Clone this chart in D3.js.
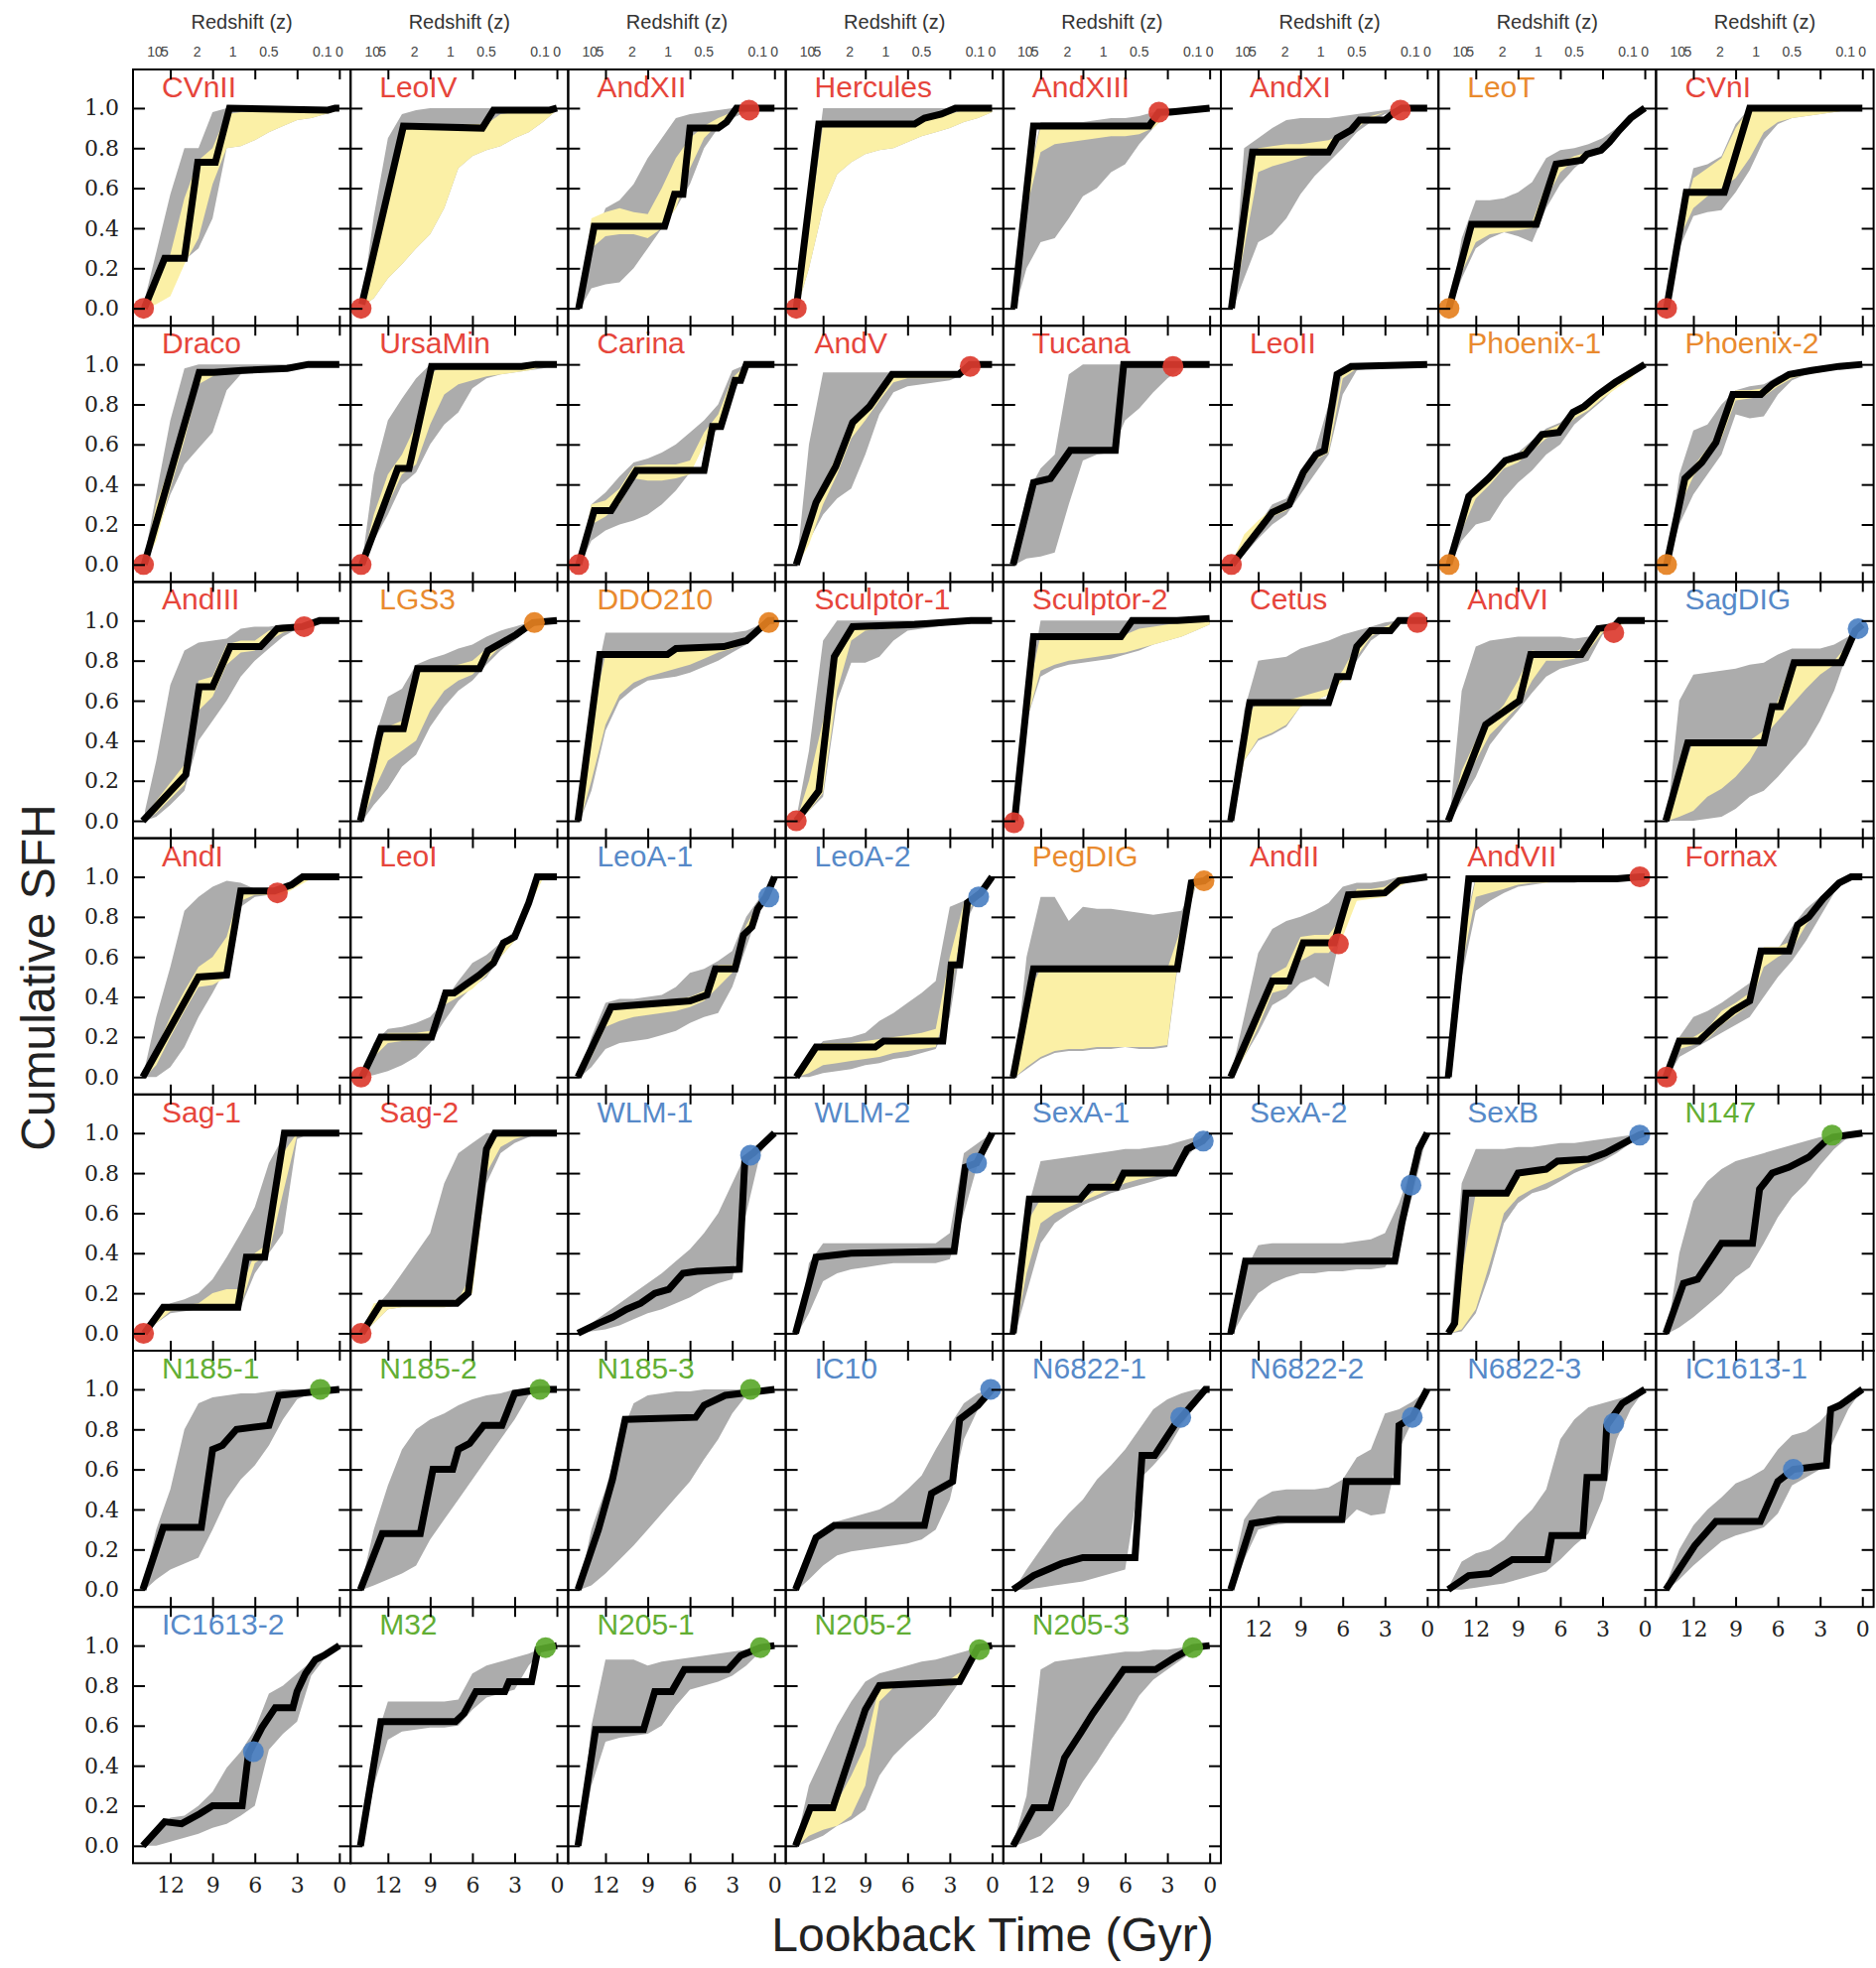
<!DOCTYPE html>
<html>
<head>
<meta charset="utf-8">
<script src="https://d3js.org/d3.v7.min.js"></script>
<style>
  body { margin: 0; background: #fff; }
</style>
</head>
<body>
<script>
// lookback-time grid (Gyr) the uncertainty bands are read on
const TIME_GRID = [13.8, 13, 12, 11, 10, 9, 8, 7, 6, 5, 4, 3, 2, 1, 0];

const galaxies = [
  "CVnII", "LeoIV", "AndXII", "Hercules", "AndXIII", "AndXI", "LeoT", "CVnI",
  "Draco", "UrsaMin", "Carina", "AndV", "Tucana", "LeoII", "Phoenix-1", "Phoenix-2",
  "AndIII", "LGS3", "DDO210", "Sculptor-1", "Sculptor-2", "Cetus", "AndVI", "SagDIG",
  "AndI", "LeoI", "LeoA-1", "LeoA-2", "PegDIG", "AndII", "AndVII", "Fornax",
  "Sag-1", "Sag-2", "WLM-1", "WLM-2", "SexA-1", "SexA-2", "SexB", "N147",
  "N185-1", "N185-2", "N185-3", "IC10", "N6822-1", "N6822-2", "N6822-3", "IC1613-1",
  "IC1613-2", "M32", "N205-1", "N205-2", "N205-3"
];

// r = red, o = orange, b = blue, g = green
const groups = [
  "r", "r", "r", "r", "r", "r", "o", "r",
  "r", "r", "r", "r", "r", "r", "o", "o",
  "r", "o", "o", "r", "r", "r", "r", "b",
  "r", "r", "b", "b", "o", "r", "r", "r",
  "r", "r", "b", "b", "b", "b", "b", "g",
  "g", "g", "g", "b", "b", "b", "b", "b",
  "b", "g", "g", "g", "g"
];

// best fit cumulative SFH, [lookback Gyr, fraction]
const bestFit = [
  [[13.85,0],[12.4,0.25],[11.0,0.25],[10.05,0.73],[8.8,0.73],[7.8,1.0],[0.8,0.99],[0.3,1.0],[0,1.0]],
  [[13.85,0.02],[10.9,0.91],[5.3,0.9],[4.5,0.99],[0.5,0.99],[0,1.0]],
  [[13.9,0],[12.8,0.41],[7.8,0.41],[7.1,0.57],[6.5,0.57],[6.0,0.9],[4.0,0.9],[3.4,0.93],[2.7,1.0],[0,1.0]],
  [[13.9,0],[12.3,0.92],[5.5,0.92],[4.8,0.95],[3.6,0.97],[2.6,1.0],[0,1.0]],
  [[13.9,0],[12.5,0.91],[4.3,0.91],[3.6,0.98],[2.8,0.98],[0,1.0]],
  [[13.9,0],[12.4,0.78],[7.0,0.78],[6.4,0.85],[5.4,0.89],[4.8,0.94],[3.0,0.94],[2.5,0.97],[1.8,1.0],[0,1.0]],
  [[13.9,0],[12.3,0.42],[7.7,0.42],[6.3,0.72],[4.5,0.74],[4.1,0.77],[3.1,0.79],[2.5,0.83],[1.8,0.89],[1.0,0.95],[0,1.0]],
  [[13.9,0],[12.5,0.58],[9.8,0.58],[8.0,1.0],[0,1.0]],
  [[13.85,0],[9.95,0.96],[8.9,0.96],[6.9,0.97],[3.7,0.98],[2.2,1.0],[0,1.0]],
  [[13.85,0],[11.3,0.48],[10.5,0.48],[8.9,0.99],[2.5,0.99],[1.5,1.0],[0,1.0]],
  [[13.9,0],[12.8,0.27],[11.6,0.27],[9.8,0.47],[5.0,0.47],[4.4,0.69],[3.8,0.69],[2.8,0.92],[2.4,0.92],[2.0,1.0],[0,1.0]],
  [[13.9,0],[12.5,0.31],[11.1,0.49],[9.9,0.71],[8.7,0.79],[7.1,0.95],[2.35,0.95],[1.55,1.0],[0,1.0]],
  [[13.95,0],[12.5,0.41],[11.3,0.43],[9.9,0.57],[6.7,0.57],[6.1,1.0],[0,1.0]],
  [[13.85,0],[11.0,0.26],[9.8,0.3],[8.8,0.46],[7.9,0.55],[7.3,0.57],[6.4,0.95],[5.4,0.99],[0,1.0]],
  [[13.9,0],[12.5,0.34],[11.1,0.43],[9.9,0.52],[8.5,0.55],[7.3,0.65],[6.1,0.66],[5.1,0.76],[4.3,0.79],[3.3,0.85],[2.1,0.91],[0,1.0]],
  [[13.9,0],[12.6,0.43],[11.4,0.51],[10.4,0.61],[9.2,0.85],[7.2,0.85],[6.4,0.9],[5.2,0.95],[3.6,0.97],[1.65,0.99],[0,1.0]],
  [[13.95,0],[10.9,0.23],[9.95,0.67],[9.0,0.67],[7.75,0.87],[5.6,0.87],[4.4,0.96],[2.6,0.97],[1.4,1.0],[0,1.0]],
  [[13.95,0],[12.5,0.46],[10.9,0.46],[9.9,0.76],[5.5,0.76],[4.9,0.85],[3.9,0.89],[2.9,0.93],[1.7,0.99],[0,1.0]],
  [[13.95,0],[12.4,0.83],[7.6,0.83],[7.0,0.86],[3.6,0.87],[2.0,0.9],[1.2,0.95],[0.4,1.0],[0,1.0]],
  [[13.9,0],[12.3,0.15],[11.2,0.82],[9.9,0.97],[5.5,0.98],[1.5,1.0],[0,1.0]],
  [[13.85,0],[12.5,0.92],[6.3,0.92],[5.5,1.0],[2.3,1.0],[0,1.01]],
  [[13.95,0],[12.6,0.59],[7.0,0.59],[6.4,0.72],[5.6,0.72],[5.0,0.87],[4.0,0.95],[2.6,0.95],[2.0,1.0],[0,1.0]],
  [[13.95,0],[11.3,0.48],[10.1,0.54],[8.9,0.6],[8.1,0.83],[4.5,0.83],[3.3,0.96],[2.2,0.97],[1.8,1.0],[0,1.0]],
  [[13.95,0],[12.4,0.39],[7.0,0.39],[6.4,0.57],[5.8,0.57],[4.85,0.79],[1.5,0.79],[0.5,0.95],[0,0.98]],
  [[13.95,0],[10.0,0.5],[8.0,0.51],[7.0,0.93],[4.6,0.93],[3.4,0.96],[2.6,1.0],[0,1.0]],
  [[13.85,0],[12.5,0.2],[8.9,0.2],[7.9,0.42],[7.3,0.42],[6.5,0.46],[5.5,0.51],[4.5,0.57],[3.8,0.67],[3.0,0.7],[2.0,0.87],[1.4,1.0],[0,1.0]],
  [[13.95,0],[11.6,0.35],[6.0,0.38],[4.8,0.41],[4.2,0.54],[2.8,0.54],[2.2,0.71],[1.6,0.75],[1.2,0.84],[0.6,0.9],[0,1.0]],
  [[13.9,0],[12.5,0.15],[8.3,0.15],[7.7,0.18],[3.5,0.18],[2.9,0.56],[2.3,0.56],[1.75,0.87],[0.8,0.92],[0,1.0]],
  [[13.95,0],[12.5,0.54],[2.3,0.54],[1.7,0.8],[1.3,0.97],[0.4,0.98],[0,1.0]],
  [[13.95,0],[11.0,0.48],[9.8,0.48],[8.8,0.67],[6.6,0.67],[5.6,0.91],[3.0,0.92],[2.0,0.98],[0,1.0]],
  [[13.95,0],[12.5,0.99],[2.0,0.99],[0.35,1.0],[0,1.0]],
  [[13.95,0],[13.0,0.18],[11.6,0.18],[10.4,0.26],[9.2,0.33],[8.0,0.38],[7.2,0.63],[5.2,0.63],[4.6,0.76],[3.8,0.8],[2.8,0.89],[1.65,0.97],[0.8,1.0],[0,1.0]],
  [[13.85,0],[12.5,0.13],[7.2,0.13],[6.6,0.38],[5.3,0.38],[3.9,1.0],[0,1.0]],
  [[13.85,0],[12.5,0.15],[7.1,0.15],[6.3,0.2],[5.0,0.92],[4.4,1.0],[0,1.0]],
  [[13.95,0],[12.5,0.05],[11.5,0.08],[10.5,0.12],[9.5,0.15],[8.5,0.2],[7.5,0.22],[6.5,0.3],[5.5,0.31],[2.5,0.32],[2.1,0.87],[1.5,0.9],[0,1.0]],
  [[13.95,0],[12.5,0.38],[10.0,0.4],[2.7,0.41],[1.9,0.83],[1.1,0.85],[0,1.0]],
  [[13.95,0],[12.8,0.67],[9.2,0.67],[8.5,0.73],[6.6,0.73],[6.1,0.8],[2.5,0.8],[1.6,0.92],[0.5,0.96],[0,1.0]],
  [[13.95,0],[12.9,0.36],[2.3,0.36],[1.8,0.55],[1.2,0.74],[0.6,0.92],[0,1.0]],
  [[13.95,0],[13.5,0.05],[12.7,0.7],[9.8,0.7],[9.0,0.8],[7.0,0.82],[6.2,0.86],[4.0,0.87],[2.8,0.9],[0.4,0.99],[0,1.0]],
  [[13.95,0],[12.7,0.25],[11.7,0.27],[10.0,0.45],[7.8,0.45],[7.3,0.72],[6.4,0.8],[5.2,0.83],[3.8,0.88],[2.6,0.96],[2.1,0.98],[0,1.0]],
  [[13.95,0],[12.5,0.31],[9.8,0.31],[9.0,0.7],[8.3,0.72],[7.3,0.8],[5.0,0.82],[4.3,0.97],[0,1.0]],
  [[13.95,0],[12.4,0.28],[9.7,0.28],[8.8,0.6],[7.4,0.6],[7.0,0.7],[6.2,0.73],[5.2,0.82],[3.9,0.82],[3.0,0.98],[1.25,1.0],[0,1.0]],
  [[13.95,0],[12.5,0.3],[11.5,0.55],[10.6,0.85],[5.6,0.86],[5.0,0.92],[3.5,0.97],[0,1.0]],
  [[13.95,0],[12.5,0.26],[11.2,0.32],[4.8,0.32],[4.3,0.48],[2.8,0.54],[2.3,0.85],[1.0,0.92],[0,1.0]],
  [[13.95,0],[12.5,0.07],[10.5,0.13],[9.0,0.16],[5.3,0.16],[4.8,0.67],[3.9,0.67],[2.5,0.82],[2.0,0.86],[0.3,1.0],[0,1.0]],
  [[13.95,0],[12.46,0.33],[10.6,0.35],[6.06,0.35],[5.75,0.54],[2.15,0.54],[2.0,0.82],[1.05,0.86],[0,1.0]],
  [[13.95,0],[12.5,0.07],[11.0,0.08],[9.4,0.15],[6.9,0.15],[6.6,0.27],[4.4,0.27],[4.1,0.56],[2.9,0.56],[2.7,0.82],[1.6,0.93],[0,1.0]],
  [[13.95,0],[11.9,0.22],[10.4,0.34],[7.25,0.34],[6.0,0.54],[4.9,0.6],[2.55,0.62],[2.25,0.9],[1.6,0.92],[0,1.0]],
  [[13.95,0],[12.4,0.12],[11.2,0.11],[9.9,0.16],[9.0,0.2],[6.9,0.2],[6.45,0.46],[5.5,0.59],[4.55,0.69],[3.3,0.69],[3.0,0.77],[2.4,0.86],[1.7,0.93],[1.1,0.95],[0,1.0]],
  [[13.95,0],[12.5,0.62],[7.2,0.62],[6.6,0.66],[5.75,0.77],[3.7,0.77],[3.4,0.82],[1.8,0.82],[1.35,0.98],[0,1.0]],
  [[13.95,0],[12.7,0.58],[9.3,0.58],[8.5,0.77],[7.3,0.77],[6.4,0.88],[3.3,0.88],[2.4,0.95],[1.0,0.99],[0,1.0]],
  [[13.95,0],[12.9,0.19],[11.3,0.19],[9.0,0.68],[8.0,0.8],[2.3,0.82],[1.0,0.99],[0,1.0]],
  [[13.95,0],[12.5,0.19],[11.3,0.19],[10.3,0.44],[9.1,0.57],[8.3,0.66],[7.4,0.75],[6.1,0.88],[3.85,0.88],[2.5,0.94],[1.2,0.99],[0,1.0]]
];

// total uncertainty (grey), on TIME_GRID
const grayLo = [
  [0,0.1,0.2,0.24,0.3,0.45,0.8,0.81,0.84,0.88,0.91,0.94,0.95,0.97,0.99],
  [0.01,0.05,0.15,0.22,0.3,0.37,0.5,0.7,0.76,0.79,0.81,0.85,0.88,0.93,0.99],
  [0,0.1,0.12,0.13,0.2,0.3,0.4,0.5,0.62,0.8,0.9,0.95,0.98,1,1],
  [0.01,0.2,0.5,0.67,0.73,0.77,0.79,0.8,0.83,0.86,0.88,0.9,0.93,0.95,0.98],
  [0,0.2,0.33,0.35,0.45,0.56,0.6,0.68,0.72,0.82,0.9,0.97,0.99,1,1],
  [0,0.15,0.33,0.37,0.45,0.57,0.66,0.73,0.8,0.88,0.93,0.97,0.99,1,1],
  [0,0.15,0.3,0.35,0.38,0.36,0.33,0.5,0.62,0.7,0.76,0.79,0.86,0.94,1],
  [0,0.3,0.46,0.48,0.49,0.58,0.69,0.84,0.92,0.95,0.96,0.97,0.98,0.99,1],
  [0,0.15,0.35,0.5,0.58,0.66,0.87,0.95,0.96,0.97,0.97,0.98,0.99,1,1],
  [0,0.12,0.25,0.4,0.46,0.6,0.7,0.76,0.88,0.93,0.95,0.96,0.97,0.98,1],
  [0,0.12,0.17,0.2,0.22,0.25,0.3,0.37,0.46,0.6,0.68,0.85,0.98,1,1],
  [0,0.12,0.25,0.33,0.38,0.55,0.75,0.86,0.89,0.9,0.91,0.92,0.95,1,1],
  [0,0.03,0.04,0.06,0.3,0.52,0.55,0.56,0.72,0.78,0.86,0.93,0.98,1,1],
  [0,0.05,0.13,0.2,0.25,0.35,0.45,0.55,0.85,0.97,0.98,0.99,0.99,1,1],
  [0,0.12,0.2,0.22,0.33,0.41,0.47,0.55,0.6,0.7,0.76,0.82,0.89,0.95,1],
  [0,0.2,0.35,0.45,0.55,0.75,0.73,0.74,0.85,0.92,0.95,0.97,0.98,0.99,1],
  [0,0.02,0.08,0.15,0.4,0.5,0.6,0.72,0.8,0.86,0.92,0.96,0.98,1,1],
  [0,0.08,0.16,0.27,0.33,0.47,0.57,0.65,0.7,0.78,0.85,0.9,0.96,0.99,1],
  [0,0.15,0.45,0.6,0.66,0.7,0.71,0.72,0.74,0.77,0.8,0.84,0.88,0.95,1],
  [0,0.05,0.12,0.6,0.79,0.79,0.82,0.9,0.95,0.96,0.97,0.98,0.99,1,1],
  [0,0.5,0.72,0.76,0.78,0.79,0.8,0.81,0.83,0.85,0.88,0.9,0.92,0.95,0.98],
  [0,0.3,0.4,0.43,0.47,0.57,0.6,0.63,0.7,0.8,0.9,0.95,0.98,1,1],
  [0,0.1,0.22,0.38,0.47,0.55,0.64,0.72,0.76,0.78,0.8,0.93,0.97,1,1],
  [0,0,0,0.01,0.02,0.06,0.12,0.15,0.22,0.3,0.38,0.5,0.65,0.85,1],
  [0,0,0.05,0.15,0.3,0.42,0.55,0.85,0.9,0.91,0.93,0.96,0.99,1,1],
  [0,0.01,0.03,0.06,0.1,0.17,0.28,0.38,0.45,0.5,0.6,0.68,0.85,1,1],
  [0,0.05,0.14,0.17,0.18,0.19,0.21,0.23,0.27,0.3,0.32,0.45,0.65,0.85,1],
  [0,0,0.02,0.03,0.04,0.06,0.07,0.09,0.1,0.12,0.14,0.3,0.75,0.9,1],
  [0,0.04,0.09,0.12,0.13,0.13,0.14,0.14,0.15,0.14,0.14,0.15,0.7,0.95,1],
  [0,0.1,0.22,0.36,0.4,0.47,0.5,0.45,0.75,0.9,0.91,0.93,0.97,1,1],
  [0,0.5,0.83,0.88,0.92,0.95,0.96,0.97,0.97,0.97,0.98,0.98,0.98,0.99,1],
  [0,0.1,0.14,0.18,0.22,0.26,0.3,0.4,0.5,0.58,0.68,0.8,0.92,0.99,1],
  [0,0.05,0.1,0.11,0.12,0.12,0.12,0.13,0.3,0.4,0.5,0.97,1,1,1],
  [0,0.05,0.12,0.13,0.13,0.13,0.13,0.14,0.3,0.75,0.9,0.95,0.98,1,1],
  [0,0.01,0.02,0.04,0.07,0.1,0.12,0.15,0.18,0.22,0.25,0.27,0.6,0.9,1],
  [0,0.1,0.26,0.3,0.32,0.33,0.34,0.35,0.35,0.35,0.35,0.37,0.6,0.85,1],
  [0,0.2,0.45,0.55,0.6,0.64,0.67,0.7,0.72,0.74,0.76,0.78,0.85,0.93,1],
  [0,0.1,0.2,0.25,0.28,0.3,0.3,0.31,0.31,0.32,0.32,0.33,0.45,0.7,1],
  [0,0.01,0.1,0.3,0.55,0.65,0.7,0.72,0.76,0.8,0.83,0.86,0.9,0.95,1],
  [0,0.03,0.08,0.14,0.2,0.28,0.33,0.45,0.58,0.68,0.75,0.84,0.92,0.98,1],
  [0,0.05,0.1,0.13,0.16,0.3,0.45,0.55,0.62,0.72,0.85,0.95,0.98,1,1],
  [0,0.02,0.05,0.08,0.12,0.25,0.35,0.45,0.55,0.65,0.75,0.85,0.97,1,1],
  [0,0.02,0.08,0.15,0.22,0.3,0.38,0.46,0.54,0.65,0.75,0.88,0.97,1,1],
  [0,0.05,0.12,0.17,0.19,0.2,0.21,0.22,0.23,0.25,0.3,0.45,0.75,0.9,1],
  [0,0,0.01,0.02,0.03,0.04,0.06,0.08,0.1,0.55,0.62,0.7,0.82,0.92,1],
  [0,0.15,0.3,0.32,0.33,0.33,0.33,0.33,0.33,0.4,0.37,0.38,0.7,0.85,1],
  [0,0,0.01,0.02,0.03,0.05,0.07,0.09,0.15,0.22,0.28,0.45,0.75,0.9,1],
  [0,0.05,0.12,0.18,0.24,0.27,0.29,0.31,0.38,0.52,0.56,0.6,0.75,0.9,1],
  [0,0,0.02,0.04,0.06,0.09,0.11,0.15,0.2,0.48,0.56,0.62,0.85,0.94,1],
  [0,0.3,0.53,0.57,0.58,0.59,0.59,0.6,0.68,0.74,0.76,0.78,0.9,0.98,1],
  [0,0.3,0.52,0.54,0.55,0.56,0.6,0.7,0.78,0.8,0.82,0.85,0.9,0.97,1],
  [0,0.02,0.05,0.1,0.13,0.18,0.35,0.45,0.52,0.58,0.65,0.75,0.85,0.97,1],
  [0,0.02,0.05,0.12,0.2,0.32,0.42,0.53,0.63,0.75,0.83,0.88,0.93,0.98,1]
];

const grayHi = [
  [0.05,0.28,0.57,0.8,0.8,0.98,1,1,1,1,1,1,1,1,1],
  [0.05,0.46,0.85,0.97,0.99,1,1,1,1,1,1,1,1,1,1],
  [0.05,0.3,0.5,0.54,0.62,0.75,0.85,0.95,0.97,0.98,0.99,1,1,1,1],
  [0.03,0.45,1,1,1,1,1,1,1,1,1,1,1,1,1],
  [0.02,0.6,0.93,0.93,0.93,0.93,0.94,0.95,0.95,0.96,0.98,1,1,1,1],
  [0.05,0.8,0.85,0.9,0.94,0.95,0.95,0.95,0.96,0.97,0.98,0.99,1,1,1],
  [0.02,0.35,0.54,0.54,0.55,0.58,0.63,0.75,0.79,0.8,0.82,0.85,0.9,0.96,1],
  [0.02,0.4,0.7,0.72,0.76,0.92,1,1,1,1,1,1,1,1,1],
  [0.05,0.35,0.72,0.98,1,1,1,1,1,1,1,1,1,1,1],
  [0.03,0.45,0.72,0.83,0.93,1,1,1,1,1,1,1,1,1,1],
  [0.02,0.3,0.36,0.44,0.51,0.53,0.56,0.6,0.66,0.72,0.8,0.97,1,1,1],
  [0.05,0.6,0.96,0.96,0.96,0.96,0.96,0.96,0.96,0.96,0.96,0.96,0.97,1,1],
  [0.05,0.35,0.48,0.55,0.95,1,1,1,1,1,1,1,1,1,1],
  [0.02,0.12,0.2,0.3,0.33,0.45,0.56,0.8,0.97,1,1,1,1,1,1],
  [0.02,0.22,0.38,0.45,0.53,0.56,0.62,0.68,0.71,0.78,0.82,0.88,0.93,0.97,1],
  [0.03,0.45,0.67,0.7,0.8,0.87,0.89,0.9,0.94,0.96,0.97,0.98,0.99,1,1],
  [0.05,0.3,0.68,0.85,0.89,0.9,0.91,0.96,0.97,0.97,0.98,0.98,0.99,1,1],
  [0.05,0.4,0.62,0.66,0.78,0.81,0.83,0.86,0.88,0.92,0.95,0.97,0.99,1,1],
  [0.05,0.6,0.94,0.94,0.94,0.94,0.94,0.94,0.94,0.94,0.94,0.94,0.95,0.98,1],
  [0.05,0.35,0.9,1,1,1,1,1,1,1,1,1,1,1,1],
  [0.05,0.6,1,1,1,1,1,1,1,1,1,1,1,1,1],
  [0.05,0.55,0.8,0.81,0.82,0.86,0.88,0.9,0.93,0.95,0.97,0.99,1,1,1],
  [0.05,0.65,0.87,0.9,0.91,0.92,0.92,0.92,0.92,0.91,0.92,0.97,0.99,1,1],
  [0.05,0.6,0.73,0.74,0.75,0.76,0.78,0.79,0.83,0.86,0.86,0.86,0.88,0.92,1],
  [0.05,0.3,0.55,0.83,0.9,0.95,0.98,0.97,0.94,0.93,0.95,0.98,1,1,1],
  [0.02,0.17,0.24,0.25,0.27,0.3,0.38,0.48,0.57,0.61,0.67,0.73,0.88,1,1],
  [0.02,0.2,0.37,0.39,0.39,0.4,0.41,0.45,0.52,0.54,0.58,0.63,0.8,0.9,1],
  [0.02,0.1,0.18,0.19,0.2,0.22,0.28,0.32,0.37,0.42,0.48,0.85,0.88,0.92,1],
  [0.05,0.6,0.9,0.9,0.78,0.85,0.84,0.84,0.83,0.82,0.81,0.82,0.83,0.97,1],
  [0.05,0.3,0.62,0.74,0.78,0.8,0.83,0.87,0.95,0.97,0.97,0.98,1,1,1],
  [0.05,0.7,1,1,1,1,1,1,1,1,1,1,1,1,1],
  [0.02,0.2,0.3,0.33,0.37,0.42,0.47,0.62,0.64,0.75,0.84,0.9,0.96,1,1],
  [0.02,0.1,0.15,0.17,0.2,0.27,0.38,0.5,0.63,0.85,0.98,1,1,1,1],
  [0.02,0.12,0.2,0.3,0.4,0.5,0.75,0.9,0.95,1,1,1,1,1,1],
  [0.02,0.05,0.1,0.15,0.2,0.25,0.3,0.36,0.42,0.5,0.6,0.75,0.9,0.95,1],
  [0.02,0.35,0.45,0.45,0.45,0.45,0.45,0.45,0.45,0.45,0.45,0.5,0.9,0.95,1],
  [0.05,0.6,0.86,0.87,0.88,0.89,0.9,0.91,0.92,0.92,0.93,0.94,0.96,0.98,1],
  [0.02,0.3,0.44,0.45,0.45,0.45,0.45,0.45,0.45,0.46,0.47,0.5,0.65,0.85,1],
  [0.05,0.75,0.92,0.92,0.92,0.93,0.93,0.94,0.95,0.95,0.96,0.97,0.98,0.99,1],
  [0.03,0.4,0.66,0.76,0.82,0.86,0.88,0.9,0.92,0.94,0.96,0.98,0.99,1,1],
  [0.05,0.3,0.5,0.8,0.93,0.96,0.97,0.98,0.98,0.99,1,1,1,1,1],
  [0.05,0.3,0.52,0.7,0.8,0.85,0.88,0.92,0.95,0.97,0.98,1,1,1,1],
  [0.03,0.3,0.5,0.75,0.93,0.97,0.98,0.99,0.99,1,1,1,1,1,1],
  [0.02,0.15,0.3,0.34,0.36,0.38,0.4,0.44,0.5,0.57,0.7,0.82,0.93,0.98,1],
  [0.01,0.1,0.2,0.3,0.38,0.45,0.55,0.62,0.7,0.8,0.9,0.95,0.98,1,1],
  [0.1,0.35,0.45,0.49,0.5,0.5,0.5,0.51,0.55,0.66,0.7,0.88,0.9,0.94,1],
  [0.03,0.14,0.18,0.2,0.25,0.33,0.4,0.5,0.75,0.85,0.91,0.93,0.95,0.97,1],
  [0.05,0.2,0.32,0.4,0.46,0.53,0.56,0.6,0.7,0.77,0.79,0.84,0.92,0.96,1],
  [0.01,0.07,0.14,0.15,0.2,0.27,0.39,0.47,0.58,0.76,0.8,0.86,0.92,0.96,1],
  [0.05,0.5,0.72,0.72,0.72,0.72,0.72,0.73,0.86,0.9,0.92,0.94,0.96,0.99,1],
  [0.05,0.6,0.93,0.93,0.93,0.9,0.92,0.93,0.94,0.95,0.96,0.97,0.98,0.99,1],
  [0.05,0.3,0.45,0.6,0.72,0.82,0.86,0.88,0.9,0.92,0.93,0.95,0.97,0.99,1],
  [0.05,0.25,0.88,0.92,0.93,0.94,0.95,0.96,0.97,0.97,0.98,0.98,0.99,1,1]
];

// random-only uncertainty (yellow), on TIME_GRID; null where hidden by the fit
const yellowLo = [
  [0,0.02,0.06,0.22,0.35,0.62,0.8,0.81,0.84,0.88,0.91,0.94,0.95,0.97,0.99],
  [0.01,0.05,0.15,0.22,0.3,0.37,0.5,0.7,0.76,0.79,0.81,0.85,0.88,0.93,0.99],
  [0,0.3,0.36,0.37,0.37,0.35,0.4,0.5,0.7,0.85,0.92,0.97,0.99,1,1],
  [0.01,0.2,0.5,0.67,0.73,0.77,0.79,0.8,0.83,0.86,0.88,0.9,0.93,0.95,0.98],
  [0,0.5,0.78,0.82,0.83,0.84,0.85,0.86,0.86,0.87,0.9,0.97,0.99,1,1],
  [0,0.3,0.68,0.71,0.73,0.75,0.77,0.8,0.85,0.9,0.95,0.98,1,1,1],
  [0,0.18,0.33,0.37,0.38,0.39,0.4,0.55,0.68,0.74,0.77,0.8,0.87,0.95,1],
  [0,0.35,0.5,0.56,0.6,0.65,0.75,0.88,0.93,0.95,0.96,0.97,0.98,0.99,1],
  [0,0.12,0.38,0.62,0.9,0.94,0.96,0.96,0.97,0.97,0.97,0.98,0.99,1,1],
  [0,0.15,0.3,0.45,0.5,0.7,0.85,0.9,0.92,0.94,0.95,0.96,0.97,0.99,1],
  [0,0.2,0.24,0.3,0.43,0.42,0.42,0.43,0.45,0.6,0.7,0.88,0.98,1,1],
  [0,0.1,0.3,0.45,0.63,0.72,0.82,0.91,0.93,0.93,0.93,0.93,0.95,1,1],
  null,
  [0,0.11,0.18,0.24,0.27,0.4,0.52,0.56,0.93,0.98,0.99,0.99,0.99,1,1],
  [0,0.17,0.33,0.4,0.48,0.51,0.57,0.63,0.66,0.73,0.77,0.83,0.88,0.93,1],
  [0,0.29,0.44,0.53,0.63,0.82,0.83,0.84,0.89,0.93,0.95,0.96,0.98,0.99,1],
  [0,0.04,0.11,0.18,0.55,0.62,0.78,0.84,0.85,0.9,0.94,0.96,0.97,1,1],
  [0,0.15,0.3,0.35,0.4,0.55,0.65,0.7,0.73,0.8,0.87,0.92,0.97,0.99,1],
  [0,0.2,0.48,0.63,0.69,0.72,0.74,0.76,0.78,0.81,0.84,0.86,0.89,0.96,1],
  [0,0.05,0.14,0.65,0.9,0.95,0.96,0.96,0.97,0.97,0.98,0.98,0.99,1,1],
  [0,0.5,0.75,0.78,0.8,0.81,0.82,0.83,0.84,0.86,0.88,0.9,0.92,0.95,0.98],
  [0,0.3,0.41,0.44,0.48,0.57,0.6,0.63,0.7,0.82,0.92,0.96,0.98,1,1],
  [0,0.17,0.3,0.43,0.5,0.57,0.7,0.8,0.8,0.81,0.85,0.94,0.97,1,1],
  [0,0.02,0.05,0.12,0.16,0.22,0.3,0.42,0.5,0.58,0.66,0.73,0.78,0.88,1],
  [0,0.06,0.2,0.33,0.45,0.46,0.5,0.88,0.91,0.91,0.91,0.95,0.99,1,1],
  [0,0.1,0.17,0.18,0.18,0.19,0.36,0.4,0.44,0.51,0.6,0.68,0.85,0.99,1],
  [0,0.1,0.25,0.28,0.3,0.31,0.32,0.33,0.35,0.38,0.45,0.52,0.7,0.85,1],
  [0,0.02,0.06,0.07,0.08,0.09,0.1,0.12,0.13,0.14,0.15,0.4,0.8,0.9,1],
  [0,0.05,0.1,0.13,0.14,0.14,0.15,0.15,0.15,0.15,0.15,0.16,0.72,0.96,1],
  [0,0.1,0.25,0.42,0.44,0.58,0.62,0.62,0.7,0.88,0.89,0.9,0.95,0.99,1],
  [0,0.55,0.9,0.92,0.94,0.96,0.97,0.97,0.98,0.98,0.98,0.99,0.99,0.99,1],
  [0,0.14,0.16,0.19,0.26,0.31,0.36,0.55,0.6,0.64,0.76,0.85,0.93,0.99,1],
  [0,0.05,0.11,0.12,0.12,0.13,0.13,0.14,0.35,0.4,0.7,0.99,1,1,1],
  [0,0.05,0.12,0.13,0.13,0.13,0.13,0.14,0.2,0.8,0.93,0.97,0.99,1,1],
  null, null,
  [0,0.3,0.55,0.6,0.63,0.66,0.69,0.72,0.75,0.77,0.78,0.8,0.88,0.94,1],
  null,
  [0,0.02,0.12,0.35,0.6,0.68,0.72,0.75,0.78,0.82,0.85,0.88,0.92,0.96,1],
  null, null, null, null, null, null, null, null, null, null, null, null,
  [0,0.05,0.08,0.1,0.15,0.3,0.72,0.79,0.8,0.8,0.8,0.8,0.86,0.98,1],
  null
];

const yellowHi = [
  [0.03,0.15,0.27,0.55,0.74,0.8,0.97,0.98,0.98,0.98,0.98,0.98,0.99,0.99,1],
  [0.03,0.3,0.6,0.9,0.92,0.92,0.92,0.92,0.92,0.92,0.97,0.98,0.99,0.99,1],
  [0.02,0.45,0.48,0.5,0.48,0.47,0.6,0.75,0.85,0.91,0.95,0.98,1,1,1],
  [0.03,0.4,0.92,0.92,0.92,0.92,0.92,0.92,0.92,0.93,0.96,0.97,0.99,1,1],
  [0.02,0.6,0.91,0.91,0.91,0.91,0.91,0.91,0.91,0.91,0.92,0.98,0.99,1,1],
  [0.02,0.6,0.8,0.81,0.82,0.82,0.83,0.84,0.87,0.92,0.96,0.98,1,1,1],
  [0.02,0.25,0.43,0.43,0.43,0.43,0.43,0.62,0.73,0.76,0.78,0.81,0.88,0.96,1],
  [0.02,0.4,0.65,0.7,0.75,0.9,1,1,1,1,1,1,1,1,1],
  [0.03,0.3,0.5,0.75,0.96,0.96,0.97,0.97,0.97,0.98,0.98,0.98,0.99,1,1],
  [0.02,0.25,0.45,0.55,0.7,0.95,1,1,1,1,1,1,1,1,1],
  [0.02,0.3,0.32,0.38,0.49,0.5,0.5,0.5,0.52,0.66,0.75,0.93,1,1,1],
  [0.02,0.18,0.4,0.55,0.72,0.78,0.88,0.95,0.95,0.95,0.95,0.95,0.97,1,1],
  null,
  [0.02,0.15,0.22,0.28,0.31,0.44,0.56,0.6,0.97,0.99,0.99,0.99,0.99,1,1],
  [0.02,0.21,0.37,0.44,0.52,0.55,0.61,0.67,0.7,0.77,0.81,0.87,0.92,0.96,1],
  [0.02,0.34,0.49,0.58,0.68,0.87,0.87,0.88,0.93,0.96,0.97,0.98,0.99,1,1],
  [0.02,0.1,0.19,0.28,0.7,0.72,0.88,0.9,0.9,0.95,0.97,0.98,0.99,1,1],
  [0.02,0.35,0.47,0.5,0.76,0.77,0.77,0.78,0.8,0.86,0.9,0.93,0.98,1,1],
  [0.02,0.5,0.83,0.83,0.83,0.83,0.83,0.85,0.86,0.86,0.86,0.87,0.9,0.97,1],
  [0.02,0.2,0.5,0.85,0.97,0.97,0.97,0.98,0.98,0.98,0.99,0.99,1,1,1],
  [0.02,0.6,0.93,0.93,0.93,0.93,0.93,0.93,0.93,0.96,0.97,0.98,0.99,1,1],
  [0.02,0.5,0.6,0.6,0.6,0.62,0.64,0.66,0.75,0.88,0.95,0.97,1,1,1],
  [0.02,0.25,0.4,0.5,0.58,0.7,0.85,0.84,0.84,0.84,0.88,0.96,0.98,1,1],
  [0.02,0.2,0.4,0.4,0.4,0.4,0.4,0.45,0.6,0.8,0.8,0.8,0.8,0.88,1],
  [0.02,0.14,0.3,0.43,0.55,0.6,0.7,0.94,0.94,0.94,0.94,0.98,1,1,1],
  [0.02,0.15,0.22,0.22,0.22,0.23,0.42,0.44,0.49,0.56,0.65,0.72,0.89,1,1],
  [0.02,0.14,0.31,0.37,0.37,0.38,0.38,0.39,0.4,0.43,0.56,0.56,0.76,0.88,1],
  [0.02,0.12,0.17,0.17,0.17,0.18,0.19,0.2,0.21,0.22,0.24,0.6,0.87,0.92,1],
  [0.02,0.4,0.54,0.54,0.54,0.54,0.54,0.54,0.54,0.54,0.54,0.54,0.75,0.97,1],
  [0.02,0.18,0.34,0.51,0.55,0.7,0.71,0.71,0.8,0.94,0.94,0.95,1,1,1],
  [0.02,0.65,0.99,0.99,0.99,0.99,0.99,0.99,0.99,0.99,0.99,0.99,0.99,1,1],
  [0.02,0.2,0.2,0.24,0.33,0.37,0.42,0.65,0.65,0.68,0.81,0.89,0.96,1,1],
  [0.02,0.08,0.14,0.14,0.15,0.2,0.22,0.22,0.4,0.45,0.9,1,1,1,1],
  [0.02,0.15,0.16,0.16,0.16,0.16,0.16,0.17,0.3,0.95,0.99,1,1,1,1],
  null, null,
  [0.01,0.55,0.67,0.67,0.67,0.67,0.72,0.75,0.8,0.8,0.8,0.8,0.88,0.96,1],
  null,
  [0.02,0.3,0.7,0.7,0.7,0.78,0.81,0.82,0.86,0.86,0.87,0.89,0.93,0.97,1],
  null, null, null, null, null, null, null, null, null, null, null, null,
  [0.02,0.17,0.2,0.22,0.35,0.5,0.8,0.82,0.82,0.82,0.82,0.83,0.88,0.99,1],
  null
];

// coloured marker on each curve, [lookback Gyr, fraction]
const markers = [
  [13.9,0], [13.9,0], [1.8,0.99], [13.9,0], [3.6,0.98], [1.9,0.99], [13.9,0], [13.9,0],
  [13.9,0], [13.9,0], [13.9,0], [1.55,0.99], [2.6,0.99], [13.9,0], [13.9,0], [13.9,0],
  [2.5,0.97], [1.6,0.99], [0.4,0.99], [13.9,0], [13.9,-0.01], [0.7,0.99], [2.2,0.94], [0.3,0.96],
  [4.4,0.92], [13.9,0], [0.4,0.9], [0.95,0.9], [0.4,0.98], [6.3,0.665], [0.35,1.0], [13.9,0],
  [13.9,0], [13.9,0], [1.7,0.89], [1.1,0.85], [0.45,0.96], [1.15,0.74], [0.36,0.99], [2.15,0.99],
  [1.35,1.0], [1.2,1.0], [1.7,1.0], [0.1,1.0], [2.05,0.86], [1.06,0.86], [2.2,0.83], [4.9,0.6],
  [6.1,0.47], [0.8,0.99], [1.0,0.99], [0.9,0.98], [1.2,0.99]
];

const yTicks = [0, 0.2, 0.4, 0.6, 0.8, 1.0];
const xTicks = [12, 9, 6, 3, 0];
const zTickLabels = ["10", "5", "2", "1", "0.5", "0.1", "0"];
const zTickLookback = [13.1, 12.4, 10.1, 7.55, 5.0, 1.2, 0];

const groupColor = { r: "#dc3b2f", o: "#e5801f", b: "#4b80c2", g: "#5ba82d" };
const nameColor = { r: "#e6453b", o: "#e98a2e", b: "#5689c8", g: "#62ae34" };

const W = 1890, H = 1983;
const gridLeft = 134, gridTop = 70, pw = 219.2, ph = 258.2, ncol = 8;

const svg = d3.select("body").append("svg")
  .attr("width", W).attr("height", H)
  .style("font-family", "'Liberation Sans', Arial, sans-serif");

let x = d3.scaleLinear().domain([14.65, -0.8]).range([0, pw]);
let y = d3.scaleLinear().domain([-0.087, 1.193]).range([ph, 0]);

let band = (lo, hi) => d3.area()
  .x((d, i) => x(TIME_GRID[i]))
  .y0((d, i) => y(lo[i]))
  .y1((d, i) => y(hi[i]))(TIME_GRID);

let line = d3.line().x(d => x(d[0])).y(d => y(d[1]));

let nPanels = galaxies.length;

galaxies.forEach((name, i) => {
  let col = i % ncol, row = Math.floor(i / ncol);
  let g = svg.append("g")
    .attr("transform", `translate(${gridLeft + col * pw},${gridTop + row * ph})`);

  g.append("path").attr("d", band(grayLo[i], grayHi[i])).attr("fill", "#acacac");
  if (yellowLo[i])
    g.append("path").attr("d", band(yellowLo[i], yellowHi[i])).attr("fill", "#fbf0a6");

  g.append("path").attr("d", line(bestFit[i]))
    .attr("fill", "none").attr("stroke", "#000").attr("stroke-width", 7)
    .attr("stroke-linejoin", "miter").attr("stroke-miterlimit", 2.5);

  g.append("circle")
    .attr("cx", x(markers[i][0])).attr("cy", y(markers[i][1]))
    .attr("r", 10.5).attr("fill", groupColor[groups[i]]).attr("opacity", 0.92);

  g.append("text").text(name)
    .attr("x", 29).attr("y", 28)
    .attr("font-size", 30).attr("fill", nameColor[groups[i]]);

  // axes, ticks pointing inwards on all sides
  let isBottom = (i + ncol >= nPanels);
  let ax = [
    d3.axisLeft(y).tickValues(yTicks).tickSize(-12).tickSizeOuter(0).tickPadding(14)
      .tickFormat(col === 0 ? d3.format(".1f") : ""),
    d3.axisRight(y).tickValues(yTicks).tickSize(-12).tickSizeOuter(0).tickFormat(""),
    d3.axisBottom(x).tickValues(xTicks).tickSize(-10).tickSizeOuter(0).tickPadding(14)
      .tickFormat(isBottom ? d3.format("d") : ""),
    d3.axisTop(x).tickValues(xTicks).tickSize(-10).tickSizeOuter(0).tickFormat("")
  ];
  let pos = [[0, 0], [pw, 0], [0, ph], [0, 0]];
  ax.forEach((a, k) => {
    let ag = g.append("g").attr("transform", `translate(${pos[k][0]},${pos[k][1]})`).call(a);
    ag.select(".domain").remove();
    ag.selectAll("line").attr("stroke", "#000").attr("stroke-width", 2);
    ag.selectAll("text")
      .attr("font-family", "'DejaVu Serif', serif").attr("font-size", 22).attr("fill", "#222");
  });

  g.append("rect").attr("width", pw).attr("height", ph)
    .attr("fill", "none").attr("stroke", "#000").attr("stroke-width", 2);

  // redshift axis above the top row
  if (row === 0) {
    g.append("text").text("Redshift (z)")
      .attr("x", pw / 2).attr("y", -41).attr("text-anchor", "middle")
      .attr("font-size", 20).attr("fill", "#333");
    g.selectAll(".zt").data(zTickLabels).join("text")
      .attr("x", (d, k) => x(zTickLookback[k])).attr("y", -13)
      .attr("text-anchor", "middle").attr("font-size", 14).attr("fill", "#444")
      .text(d => d);
  }
});

svg.append("text").text("Cumulative SFH")
  .attr("transform", "translate(55,985) rotate(-90)")
  .attr("text-anchor", "middle").attr("font-size", 48).attr("fill", "#222");

svg.append("text").text("Lookback Time (Gyr)")
  .attr("x", 1000).attr("y", 1966).attr("text-anchor", "middle")
  .attr("font-size", 48).attr("fill", "#222");
</script>
</body>
</html>
